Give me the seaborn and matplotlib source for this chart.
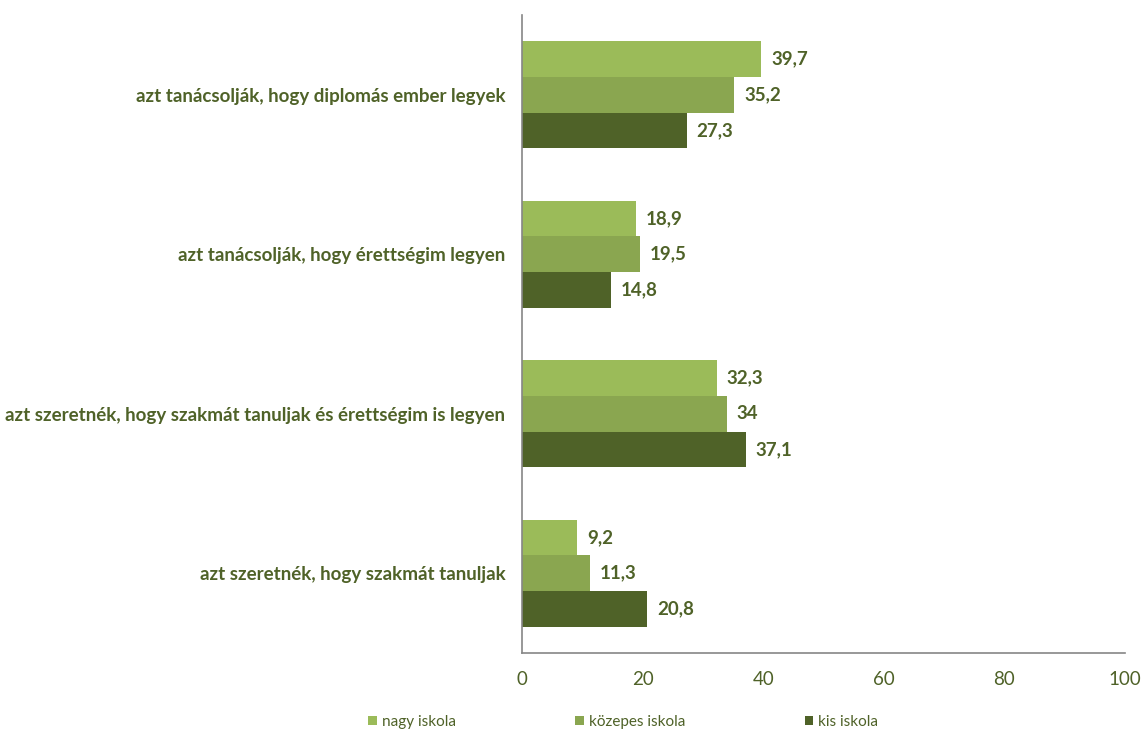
import pandas as pd
import matplotlib
matplotlib.use('Agg')
import matplotlib.pyplot as plt
import seaborn as sns
from matplotlib.ticker import FixedLocator

# chart data
categories = [
    'azt tanácsolják, hogy diplomás ember legyek',
    'azt tanácsolják, hogy érettségim legyen',
    'azt szeretnék, hogy szakmát tanuljak és érettségim is legyen',
    'azt szeretnék, hogy szakmát tanuljak',
]
series_names = ['nagy iskola', 'közepes iskola', 'kis iskola']
nagy = [39.7, 18.9, 32.3, 9.2]
kozepes = [35.2, 19.5, 34, 11.3]
kis = [27.3, 14.8, 37.1, 20.8]
x_ticks = [0, 20, 40, 60, 80, 100]

colors = ['#9BBB59', '#8AA650', '#4F6228']
text_color = '#4F6228'
axis_color = '#868686'

rows = []
for name, vals in zip(series_names, [nagy, kozepes, kis]):
    for cat, v in zip(categories, vals):
        rows.append({'kategoria': cat, 'iskola': name, 'ertek': v})
df = pd.DataFrame(rows)

sns.set_style('white')
plt.rcParams['font.family'] = ['Lato', 'DejaVu Sans']

fig = plt.figure(figsize=(11.44, 7.34), dpi=100)
ax = fig.add_axes([0.4563, 0.1104, 0.5271, 0.8692])

sns.barplot(data=df, x='ertek', y='kategoria', hue='iskola', order=categories,
            hue_order=series_names, palette=colors, orient='h', width=0.67,
            saturation=1, errorbar=None, linewidth=0, ax=ax)

# value labels
for cont in ax.containers:
    labels = [('%g' % b.get_width()).replace('.', ',') for b in cont]
    ax.bar_label(cont, labels=labels, padding=7, color=text_color,
                 fontsize=13.5, fontweight='bold')

ax.set_xlim(0, 100)
ax.set_ylim(3.5, -0.5)
ax.set_xticks(x_ticks)
ax.set_xticklabels([str(t) for t in x_ticks])
ax.set_xlabel('')
ax.set_ylabel('')

for side in ['top', 'right']:
    ax.spines[side].set_visible(False)
for side in ['left', 'bottom']:
    ax.spines[side].set_color(axis_color)
    ax.spines[side].set_linewidth(1.2)

ax.tick_params(axis='x', colors=axis_color, length=5, width=1.2, direction='out',
               labelcolor=text_color, labelsize=13.5, pad=8)
ax.tick_params(axis='y', which='major', length=0, labelcolor=text_color,
               labelsize=13.5, pad=12)
for lbl in ax.get_yticklabels():
    lbl.set_fontweight('bold')
ax.yaxis.set_minor_locator(FixedLocator([-0.5, 0.5, 1.5, 2.5, 3.5]))
ax.tick_params(axis='y', which='minor', length=5, width=1.2, color=axis_color,
               direction='out')

ax.legend(loc='center', bbox_to_anchor=(0.168, -0.108), ncol=3, frameon=False,
          fontsize=11, handlelength=0.55, handleheight=0.55, handletextpad=0.35,
          columnspacing=7.8, labelcolor=text_color, borderpad=0)

fig.savefig('out.png', dpi=100)
